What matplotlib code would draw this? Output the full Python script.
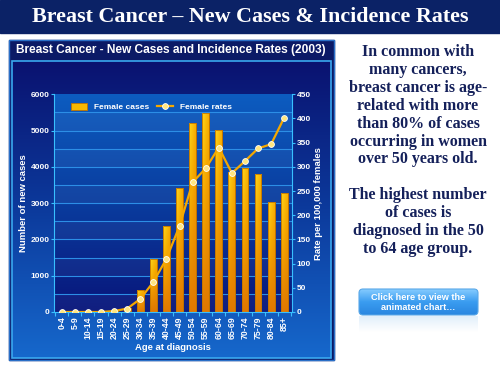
import numpy as np
import matplotlib.pyplot as plt
from matplotlib.patches import Rectangle, FancyBboxPatch, Patch
from matplotlib.lines import Line2D
from matplotlib.colors import LinearSegmentedColormap

# data
ages = ['0-4', '5-9', '10-14', '15-19', '20-24', '25-29', '30-34', '35-39', '40-44',
        '45-49', '50-54', '55-59', '60-64', '65-69', '70-74', '75-79', '80-84', '85+']
cases = [0, 0, 0, 0, 15, 110, 620, 1460, 2370, 3420, 5220, 5480, 5020,
         3870, 3980, 3800, 3040, 3270]
rates = [0, 0, 0, 0, 2, 7, 27, 62, 110, 178, 268, 297, 340, 287, 312, 338, 347, 402]

W, H = 500, 375
fig = plt.figure(figsize=(5, 3.75), dpi=100)
fig.patch.set_facecolor('white')

# background layer in pixel coords
bg = fig.add_axes([0, 0, 1, 1])
bg.set_xlim(0, W)
bg.set_ylim(H, 0)
bg.axis('off')

navy = '#0b2266'
bg.add_patch(Rectangle((0, 0), W, 33, color=navy))
bg.text(250, 17, 'Breast Cancer \u2013 New Cases & Incidence Rates', color='white',
        fontsize=15.8, fontweight='bold', family='Liberation Serif', ha='center', va='center')

# chart panel
bg.add_patch(Rectangle((9, 40), 325, 320, color='#0b1a66', zorder=1))
panel_cmap = LinearSegmentedColormap.from_list('panel', ['#0a1270', '#0c3a9c', '#1668cc'])
grad = np.linspace(0, 1, 256).reshape(-1, 1)
bg.imshow(grad, extent=[12, 331, 358, 61], cmap=panel_cmap, aspect='auto', zorder=2)
bg.add_patch(Rectangle((12, 61), 319, 297, fill=False, ec='#3aa8f0', lw=1.2, zorder=3))
bg.add_patch(Rectangle((9, 40), 325, 320, fill=False, ec='#2a70c8', lw=1.0, zorder=3))
bg.text(171, 50, 'Breast Cancer - New Cases and Incidence Rates (2003)', color='white',
        fontsize=8.6, fontweight='bold', family='Liberation Sans', ha='center', va='center', zorder=4)

# right-hand text
txt_color = '#14205a'
lines1 = ['In common with', 'many cancers,', 'breast cancer is age-', 'related with more',
          'than 80% of cases', 'occurring in women', 'over 50 years old.']
lines2 = ['The highest number', 'of cases is', 'diagnosed in the 50', 'to 64 age group.']
for i, s in enumerate(lines1):
    bg.text(418, 52 + i * 17.9, s, color=txt_color, fontsize=11.5, fontweight='bold',
            family='Liberation Serif', ha='center', va='center')
for i, s in enumerate(lines2):
    bg.text(418, 195 + i * 17.9, s, color=txt_color, fontsize=11.5, fontweight='bold',
            family='Liberation Serif', ha='center', va='center')

# button
btn_cmap = LinearSegmentedColormap.from_list('btn', ['#86ccff', '#3a9cf0', '#2a86e0'])
btn = FancyBboxPatch((359, 289), 119, 26, boxstyle='round,pad=0,rounding_size=4',
                     fc='none', ec='#5aa8e8', lw=0.8, zorder=5)
bg.add_patch(btn)
im = bg.imshow(grad, extent=[359, 478, 315, 289], cmap=btn_cmap, aspect='auto', zorder=4)
im.set_clip_path(btn)
bg.text(418, 297, 'Click here to view the', color='white', fontsize=6.6, fontweight='bold',
        family='Liberation Sans', ha='center', va='center', zorder=6)
bg.text(418, 308, 'animated chart\u2026', color='white', fontsize=6.6, fontweight='bold',
        family='Liberation Sans', ha='center', va='center', zorder=6)
refl = np.linspace(0.12, 0, 64).reshape(-1, 1)
bg.imshow(refl, extent=[359, 478, 332, 316], cmap=LinearSegmentedColormap.from_list(
    'r', ['white', '#9cc8f0']), aspect='auto', zorder=4, vmin=0, vmax=0.4)

# main plot
ax = fig.add_axes([54.3 / W, (H - 312) / H, (291.7 - 54.3) / W, (312 - 94.3) / H])
ax.set_facecolor('none')
x = np.arange(len(ages))
ax.set_xlim(-0.57, len(ages) - 0.43)
ax.set_ylim(0, 6000)

plot_cmap = LinearSegmentedColormap.from_list('plot', ['#08157a', '#0a3c9e', '#0d5cc0'])
ax.imshow(grad, extent=[-0.57, len(ages) - 0.43, 6000, 0], cmap=plot_cmap,
          aspect='auto', zorder=0)
for k in range(12):
    if k % 2 == 0:
        ax.axhspan(k * 500, (k + 1) * 500, color='white', alpha=0.04, lw=0, zorder=0.5)
for yv in range(500, 6000, 500):
    ax.axhline(yv, color='#2c8ee6', lw=0.8, zorder=1)

bar_cmap = LinearSegmentedColormap.from_list('bar', ['#e07800', '#f5a800', '#ffd81a'])
bars = ax.bar(x, cases, width=0.52, color='#f5b000', edgecolor='#b86a00', lw=0.6, zorder=2)
bgrad = np.linspace(0, 1, 128).reshape(-1, 1)
hgrad = np.linspace(1, 0.55, 32).reshape(1, -1)
for b in bars:
    if b.get_height() <= 0:
        continue
    x0 = b.get_x()
    img = ax.imshow(bgrad * hgrad, extent=[x0, x0 + b.get_width(), 0, b.get_height()],
                    cmap=bar_cmap, aspect='auto', zorder=2.1, vmin=0, vmax=1, origin='lower')
    img.set_clip_path(b)
    ax.add_patch(Rectangle((x0, 0), b.get_width(), b.get_height(), fill=False,
                           ec='#c07400', lw=0.6, zorder=2.2))

ax2 = ax.twinx()
ax2.set_ylim(0, 450)
ax2.plot(x, rates, color='#f5a800', lw=1.6, marker='o', ms=4.2, mfc='#ffe680',
         mec='#ffffff', mew=0.6, zorder=5)

cyan = '#38c0ff'
for a in (ax, ax2):
    for s in a.spines.values():
        s.set_visible(False)
ax.spines['left'].set_visible(True)
ax.spines['left'].set_color(cyan)
ax.spines['bottom'].set_visible(True)
ax.spines['bottom'].set_color(cyan)
ax2.spines['right'].set_visible(True)
ax2.spines['right'].set_color(cyan)

tick_font = dict(family='Liberation Sans', fontweight='bold', fontsize=6.0)
ax.set_yticks(range(0, 6001, 1000))
ax.set_yticklabels([str(v) for v in range(0, 6001, 1000)], color='white', **tick_font)
ax2.set_yticks(range(0, 451, 50))
ax2.set_yticklabels([str(v) for v in range(0, 451, 50)], color='white', **tick_font)
ax.set_xticks(x)
ax.set_xticklabels(ages, rotation=90, color='white', family='Liberation Sans',
                   fontweight='bold', fontsize=6.3)
ax.set_xticks(np.arange(-0.5, len(ages), 1), minor=True)
ax.tick_params(axis='x', which='major', length=0, pad=3)
ax.tick_params(axis='x', which='minor', length=3, color=cyan, width=0.8)
ax.tick_params(axis='y', length=2.5, color=cyan, width=0.8, pad=1)
ax2.tick_params(axis='y', length=2.5, color=cyan, width=0.8, pad=1)

lab_font = dict(family='Liberation Sans', fontweight='bold', fontsize=6.8, color='white')
ax.set_ylabel('Number of new cases', labelpad=2, **lab_font)
ax2.set_ylabel('Rate per 100,000 females', labelpad=2, **lab_font)
ax.set_xlabel('Age at diagnosis', labelpad=3, **lab_font)

handles = [Patch(facecolor='#f7b800', edgecolor='#c07400', lw=0.6),
           Line2D([0], [0], color='#f5a800', lw=1.6, marker='o', ms=4.2,
                  mfc='#ffe680', mec='white', mew=0.6)]
leg = ax.legend(handles, ['Female cases', 'Female rates'], loc='upper left',
                bbox_to_anchor=(0.037, 0.995), ncol=2, frameon=False,
                prop=dict(family='Liberation Sans', weight='bold', size=6.0),
                handlelength=2.0, handleheight=0.9, columnspacing=0.9, handletextpad=0.8)
for t in leg.get_texts():
    t.set_color('white')
leg.set_zorder(10)

fig.savefig('out.png', dpi=100)
